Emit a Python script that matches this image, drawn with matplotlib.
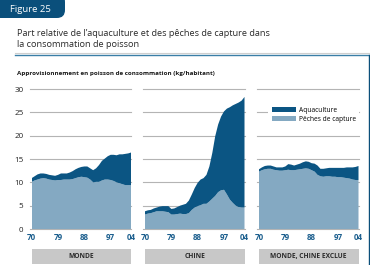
import matplotlib
matplotlib.use("Agg")
from matplotlib import pyplot as plt
from matplotlib.patches import FancyBboxPatch, Rectangle
import numpy as np

plt.rcParams['font.family'] = ['Open Sans', 'DejaVu Sans']

years = list(range(1970, 2005))
xtick_years = [1970, 1979, 1988, 1997, 2004]
xtick_labels = ["70", "79", "88", "97", "04"]
yticks = [0, 5, 10, 15, 20, 25, 30]

panel_names = ["MONDE", "CHINE", "MONDE, CHINE EXCLUE"]

# total supply (kg/habitant) = capture + aquaculture
monde_total = [10.9, 11.3, 11.7, 11.9, 11.9, 11.8, 11.6, 11.5, 11.4, 11.6,
               11.9, 11.9, 11.9, 12.1, 12.4, 12.8, 13.1, 13.3, 13.4, 13.4,
               13.0, 12.6, 13.0, 13.7, 14.6, 15.1, 15.6, 15.9, 15.9, 15.8,
               16.0, 16.0, 16.1, 16.2, 16.4]
monde_capture = [10.1, 10.4, 10.6, 10.8, 10.9, 10.8, 10.6, 10.5, 10.4, 10.5,
                 10.5, 10.6, 10.6, 10.6, 10.7, 10.9, 11.1, 11.2, 11.1, 11.0,
                 10.6, 10.0, 10.1, 10.1, 10.4, 10.6, 10.6, 10.5, 10.3, 10.0,
                 9.8, 9.6, 9.4, 9.4, 9.4]

chine_total = [3.8, 4.0, 4.1, 4.4, 4.6, 4.8, 4.9, 4.9, 4.9, 4.3,
               4.4, 4.7, 5.0, 5.2, 5.4, 6.1, 7.4, 8.8, 9.9, 10.6,
               10.9, 11.6, 13.4, 16.3, 19.9, 22.4, 24.1, 25.2, 25.8, 26.1,
               26.5, 26.8, 27.1, 27.5, 28.3]
chine_capture = [3.1, 3.3, 3.4, 3.6, 3.8, 3.8, 3.8, 3.7, 3.6, 3.1,
                 3.1, 3.2, 3.3, 3.2, 3.2, 3.4, 4.1, 4.6, 4.9, 5.1,
                 5.4, 5.4, 5.9, 6.5, 7.1, 7.9, 8.3, 8.4, 7.4, 6.3,
                 5.6, 5.0, 4.7, 4.6, 4.6]

hors_chine_total = [12.8, 13.2, 13.5, 13.6, 13.6, 13.4, 13.2, 13.2, 13.2, 13.4,
                    13.9, 13.8, 13.6, 13.8, 14.0, 14.3, 14.5, 14.4, 14.1, 14.0,
                    13.6, 12.9, 12.9, 13.0, 13.1, 13.1, 13.1, 13.1, 13.1, 13.1,
                    13.2, 13.2, 13.2, 13.3, 13.5]
hors_chine_capture = [12.3, 12.6, 12.8, 12.9, 12.9, 12.7, 12.6, 12.5, 12.5, 12.6,
                      12.7, 12.6, 12.6, 12.7, 12.8, 12.9, 13.0, 12.9, 12.6, 12.3,
                      11.6, 11.3, 11.2, 11.3, 11.3, 11.2, 11.2, 11.1, 11.1, 11.0,
                      10.9, 10.8, 10.6, 10.5, 10.5]

totals = [monde_total, chine_total, hors_chine_total]
captures = [monde_capture, chine_capture, hors_chine_capture]

DARK = "#0b5583"
LIGHT = "#84a9c2"
GRID = "#b4b4b4"
TICKBLUE = "#1c5f8e"

W, H = 370, 265
fig = plt.figure(figsize=(W / 100, H / 100), dpi=100)

# background axes in pixel coordinates for the decorations
bg = fig.add_axes([0, 0, 1, 1], zorder=-1)
bg.set_xlim(0, W)
bg.set_ylim(H, 0)
bg.axis("off")

bg.add_patch(FancyBboxPatch((-20, -6), 85, 24,
                            boxstyle="round,pad=0,rounding_size=8",
                            facecolor="#0a4f7b", edgecolor="none"))
bg.text(10, 9, "Figure 25", color="white", fontsize=6.8, va="center", ha="left")

bg.text(17, 39, "Part relative de l\u2019aquaculture et des pêches de capture dans\n"
        "la consommation de poisson", fontsize=6.6, color="#2a2a2a",
        va="center", ha="left", linespacing=1.35)

# frame lines
bg.plot([15, 369], [53, 53], color="#cfcfcf", lw=0.8)
bg.plot([15, 369], [54.5, 54.5], color="#3a7ea6", lw=1.0)
bg.plot([369, 369], [54.5, 265], color="#0b4f7a", lw=1.0)

bg.text(17, 73, "Approvisionnement en poisson de consommation (kg/habitant)",
        fontsize=4.5, fontweight="bold", color="#1a1a1a", va="center", ha="left")

lefts = [31.7, 145, 259]
pw = 99.5
y0, y30 = 229, 89

for i, left in enumerate(lefts):
    # gray label box under panel
    bg.add_patch(Rectangle((left, 249), pw, 15, facecolor="#c8c8c8", edgecolor="none"))
    bg.text(left + pw / 2, 256.5, panel_names[i], fontsize=4.8,
            fontweight="bold", color="#2a2a2a", ha="center", va="center")

    ax = fig.add_axes([left / W, 1 - y0 / H, pw / W, (y0 - y30) / H])
    total = np.array(totals[i])
    capture = np.array(captures[i])
    aqua = total - capture
    ax.stackplot(years, capture, aqua, colors=[LIGHT, DARK], linewidth=0,
                 labels=["Pêches de capture", "Aquaculture"], zorder=2)
    ax.set_xlim(1970, 2004)
    ax.set_ylim(0, 30)
    ax.set_yticks(yticks)
    for v in yticks:
        ax.axhline(v, color=GRID, lw=0.8, zorder=1, xmin=-0.02, xmax=1.0, clip_on=False)
    for s in ax.spines.values():
        s.set_visible(False)
    ax.set_xticks(xtick_years)
    ax.set_xticklabels(xtick_labels, color=TICKBLUE, fontsize=5.8, fontweight="bold")
    ax.tick_params(axis="x", length=0, pad=3)
    if i == 0:
        ax.set_yticklabels([str(v) for v in yticks], fontsize=5.8, color="#222222")
        ax.tick_params(axis="y", length=0, pad=6)
    else:
        ax.set_yticklabels([])
        ax.tick_params(axis="y", length=0)
    ax.set_facecolor("none")

    if i == 2:
        handles, labels = ax.get_legend_handles_labels()
        leg = ax.legend(handles[::-1], labels[::-1], loc="upper left",
                        bbox_to_anchor=(0.06, 0.92), fontsize=4.8, frameon=True,
                        handlelength=3.6, handleheight=0.9, handletextpad=0.5,
                        labelspacing=0.3, borderpad=0.5)
        leg.get_frame().set_edgecolor("none")
        leg.get_frame().set_facecolor("white")
        leg.get_frame().set_alpha(1)
        leg.get_frame().set_boxstyle("square", pad=0)

fig.savefig("out.png", dpi=100)
